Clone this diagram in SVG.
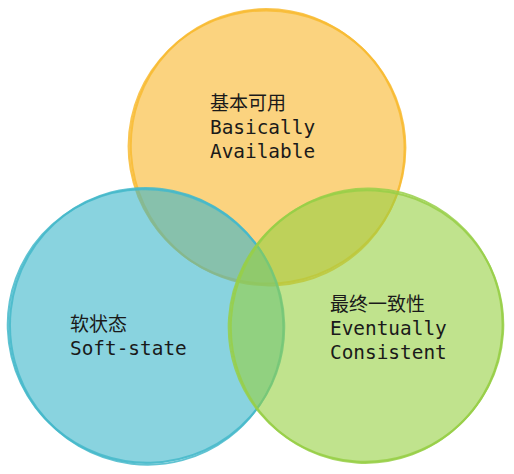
<svg xmlns="http://www.w3.org/2000/svg" width="514" height="474" viewBox="0 0 514 474">
<style>
.cn{font-family:"Noto Sans CJK SC","Noto Sans",sans-serif;font-size:19px;fill:#1a1a1a}
.en{font-family:"DejaVu Sans Mono","Liberation Mono",monospace;font-size:19.4px;fill:#1a1a1a}
.fill{stroke:none;fill-opacity:0.6}
.sk{fill:none;stroke-width:2;stroke-opacity:0.85}
</style>
<rect width="514" height="474" fill="#ffffff"/>
<g id="basically-available">
<circle class="fill" cx="267" cy="147" r="138" fill="#f8b62a"/>
<ellipse class="sk" cx="267" cy="147" rx="138.5" ry="136.5" transform="rotate(12 267 147)" stroke="#f8bb33"/>
<ellipse class="sk" cx="267.5" cy="147.5" rx="136.5" ry="138.5" transform="rotate(-25 267 147)" stroke="#f8bb33"/>
<text class="cn" x="210" y="110">基本可用</text>
<text class="en" x="210" y="134">Basically</text>
<text class="en" x="210" y="158">Available</text>
</g>
<g id="soft-state">
<circle class="fill" cx="146" cy="326" r="138" fill="#3ab6ca"/>
<ellipse class="sk" cx="146" cy="326" rx="138.5" ry="136.5" transform="rotate(20 146 326)" stroke="#45b9ca"/>
<ellipse class="sk" cx="146.5" cy="326.5" rx="136.5" ry="138.5" transform="rotate(-15 146 326)" stroke="#45b9ca"/>
<text class="cn" x="70" y="331">软状态</text>
<text class="en" x="70" y="355">Soft-state</text>
</g>
<g id="eventually-consistent">
<circle class="fill" cx="366" cy="326" r="137" fill="#96d041"/>
<ellipse class="sk" cx="366" cy="326" rx="137.5" ry="135.5" transform="rotate(-18 366 326)" stroke="#98cf48"/>
<ellipse class="sk" cx="366.5" cy="325.5" rx="135.5" ry="137.5" transform="rotate(25 366 326)" stroke="#98cf48"/>
<text class="cn" x="330" y="311">最终一致性</text>
<text class="en" x="330" y="335">Eventually</text>
<text class="en" x="330" y="359">Consistent</text>
</g>
<g id="connectors"/>
</svg>
